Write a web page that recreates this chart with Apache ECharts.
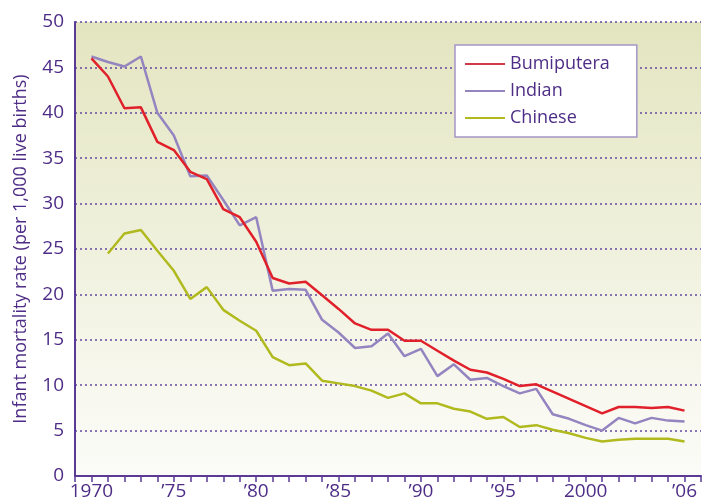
<!DOCTYPE html>
<html>
<head>
<meta charset="utf-8">
<script src="https://cdn.jsdelivr.net/npm/echarts@6/dist/echarts.min.js"></script>
<style>
  html, body { margin: 0; padding: 0; background: #fff; }
  #main { width: 704px; height: 504px; }
</style>
</head>
<body>
<div id="main"></div>
<script>
// years on the x axis
const years = [1970, 1971, 1972, 1973, 1974, 1975, 1976, 1977, 1978, 1979,
  1980, 1981, 1982, 1983, 1984, 1985, 1986, 1987, 1988, 1989,
  1990, 1991, 1992, 1993, 1994, 1995, 1996, 1997, 1998, 1999,
  2000, 2001, 2002, 2003, 2004, 2005, 2006];

// infant mortality rate per 1,000 live births
const bumiputera = [46.0, 44.0, 40.5, 40.6, 36.8, 35.9, 33.5, 32.7, 29.4, 28.5,
  25.8, 21.8, 21.2, 21.4, 19.9, 18.4, 16.8, 16.1, 16.1, 14.9,
  14.9, 13.8, 12.7, 11.7, 11.4, 10.7, 9.9, 10.1, 9.3, 8.5,
  7.7, 6.9, 7.6, 7.6, 7.5, 7.6, 7.2];
const indian = [46.2, 45.6, 45.1, 46.2, 40.0, 37.5, 33.0, 33.1, 30.4, 27.6,
  28.5, 20.4, 20.6, 20.5, 17.2, 15.8, 14.1, 14.3, 15.7, 13.2,
  14.0, 11.0, 12.3, 10.6, 10.8, 9.9, 9.1, 9.6, 6.8, 6.3,
  5.6, 5.0, 6.4, 5.8, 6.4, 6.1, 6.0];
const chinese = [null, 24.5, 26.7, 27.1, 24.8, 22.6, 19.5, 20.8, 18.3, 17.1,
  16.0, 13.1, 12.2, 12.4, 10.5, 10.2, 9.9, 9.4, 8.6, 9.1,
  8.0, 8.0, 7.4, 7.1, 6.3, 6.5, 5.4, 5.6, 5.1, 4.7,
  4.2, 3.8, 4.0, 4.1, 4.1, 4.1, 3.8];

// x labels that are shown
const xLabels = { 1970: "1970", 1975: "\u201975", 1980: "\u201980", 1985: "\u201985",
  1990: "\u201990", 1995: "\u201995", 2000: "2000", 2006: "\u201906" };

const purple = "#4e2d86";
const font = "Open Sans";

const pairs = (vals) => years.map((y, i) => [y, vals[i]]);

const chart = echarts.init(document.getElementById("main"));
const option = {
  animation: false,
  textStyle: { fontFamily: font, color: purple },
  grid: {
    left: 75, right: 0, top: 22, bottom: 28,
    show: true,
    borderWidth: 0,
    backgroundColor: new echarts.graphic.LinearGradient(0, 0, 0, 1, [
      { offset: 0, color: "#e3e5c0" },
      { offset: 0.9, color: "#fafaf4" },
      { offset: 1, color: "#fbfbf7" }
    ])
  },
  legend: {
    orient: "vertical",
    left: 455, top: 45,
    padding: [10, 27, 10, 10],
    backgroundColor: "#fff",
    borderColor: "#a595c8",
    borderWidth: 1.5,
    icon: "rect",
    itemWidth: 40,
    itemHeight: 2,
    itemGap: 9,
    textStyle: { fontFamily: font, color: purple, fontSize: 18 },
    data: ["Bumiputera", "Indian", "Chinese"]
  },
  xAxis: {
    type: "value",
    min: 1969, max: 2007, interval: 1,
    axisLine: { lineStyle: { color: "#5a3a94", width: 2 } },
    axisTick: { show: true, length: 6, lineStyle: { color: "#5a3a94", width: 1.5 } },
    axisLabel: {
      color: purple, fontSize: 19, fontFamily: font, margin: 6,
      formatter: (v) => xLabels[v] || ""
    },
    splitLine: { show: false }
  },
  yAxis: {
    type: "value",
    min: 0, max: 50, interval: 5,
    name: "Infant mortality rate (per 1,000 live births)",
    nameLocation: "middle",
    nameGap: 45,
    nameTextStyle: { color: purple, fontSize: 18, fontFamily: font },
    axisLine: { show: true, lineStyle: { color: "#5a3a94", width: 2 } },
    axisTick: { show: false },
    axisLabel: { color: purple, fontSize: 19, fontFamily: font, margin: 11 },
    splitLine: { lineStyle: { color: "#6448a0", width: 1.5, type: [2, 3] } }
  },
  series: [
    { name: "Bumiputera", type: "line", symbol: "none", data: pairs(bumiputera),
      lineStyle: { color: "#e0202a", width: 2.5 }, itemStyle: { color: "#d23a4a" }, z: 4 },
    { name: "Indian", type: "line", symbol: "none", data: pairs(indian),
      lineStyle: { color: "#9484c0", width: 2.5 }, itemStyle: { color: "#9484c0" }, z: 3 },
    { name: "Chinese", type: "line", symbol: "none", data: pairs(chinese),
      lineStyle: { color: "#b0ba1e", width: 2.5 }, itemStyle: { color: "#b0ba1e" }, z: 2 }
  ]
};
option && chart.setOption(option);
</script>
</body>
</html>
